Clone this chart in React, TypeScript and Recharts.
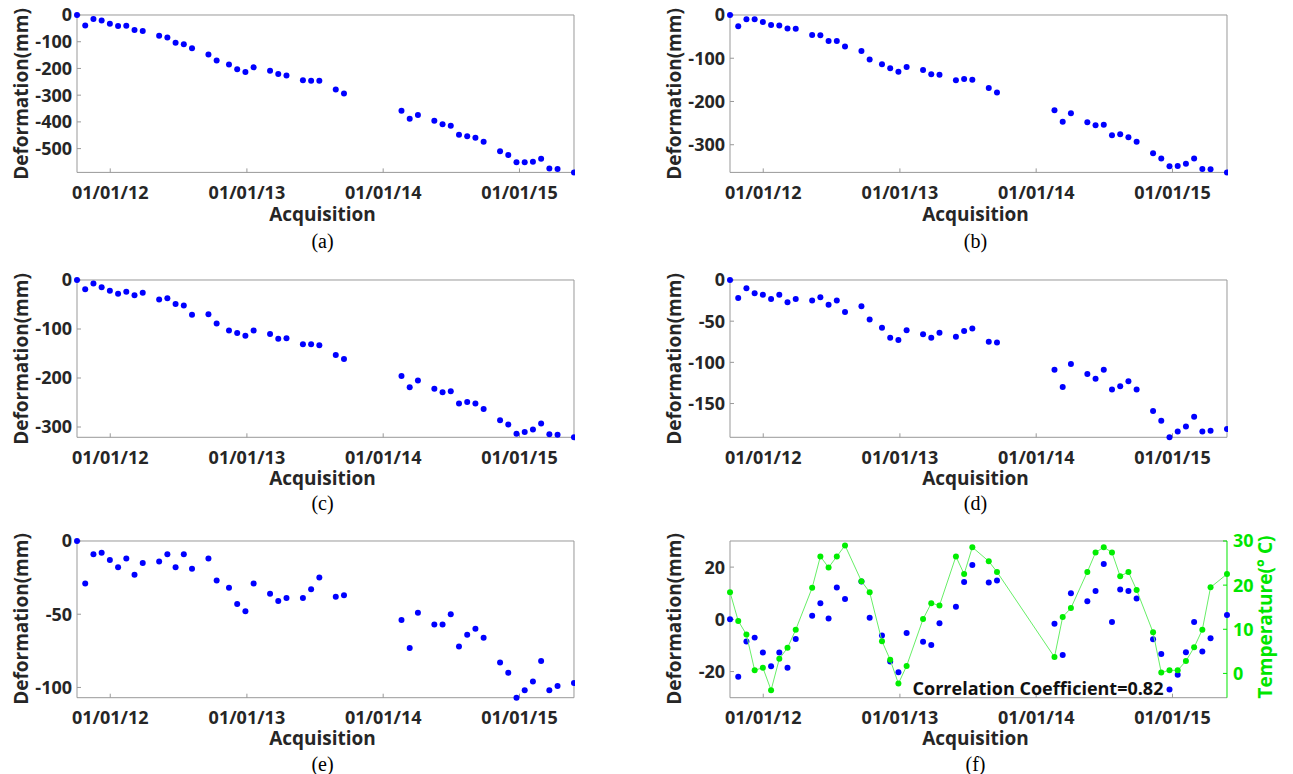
import React from 'react';
import { ScatterChart, Scatter, XAxis, YAxis } from 'recharts';

// acquisition dates (same for every point)
const acquisitionDates = [
  '2011-10-04', '2011-10-26', '2011-11-17', '2011-12-09', '2011-12-31',
  '2012-01-22', '2012-02-13', '2012-03-06', '2012-03-28', '2012-05-11',
  '2012-06-02', '2012-06-24', '2012-07-16', '2012-08-07', '2012-09-20',
  '2012-10-12', '2012-11-14', '2012-12-06', '2012-12-28', '2013-01-19',
  '2013-03-04', '2013-03-26', '2013-04-17', '2013-05-31', '2013-06-22',
  '2013-07-14', '2013-08-27', '2013-09-18', '2014-02-19', '2014-03-13',
  '2014-04-04', '2014-05-18', '2014-06-09', '2014-07-01', '2014-07-23',
  '2014-08-14', '2014-09-05', '2014-09-27', '2014-11-10', '2014-12-02',
  '2014-12-24', '2015-01-15', '2015-02-06', '2015-02-28', '2015-03-22',
  '2015-04-13', '2015-05-27',
];

const deformationA = [
  0, -39, -15, -21, -33, -41, -40, -56, -60, -78, -84, -104, -109, -124, -148, -170,
  -185, -203, -213, -196, -209, -221, -226, -244, -246, -246, -279, -294, -358, -388,
  -374, -396, -409, -414, -448, -454, -459, -474, -510, -524, -551, -551, -549, -538,
  -574, -576, -589,
];
const deformationB = [
  0, -26, -10, -10, -16, -23, -24, -31, -32, -46, -47, -60, -60, -73, -83, -103,
  -114, -123, -131, -120, -127, -137, -138, -151, -148, -150, -169, -179, -220, -247,
  -227, -248, -255, -254, -278, -276, -283, -293, -320, -332, -350, -349, -344, -332,
  -356, -357, -364,
];
const deformationC = [
  0, -19, -7, -15, -22, -28, -24, -31, -26, -40, -37, -49, -52, -71, -70, -89,
  -103, -108, -114, -103, -110, -120, -119, -131, -131, -133, -153, -161, -196, -219,
  -205, -222, -229, -227, -252, -249, -252, -263, -286, -295, -314, -310, -305, -293,
  -315, -316, -321,
];
const deformationD = [
  0, -22, -10, -16, -18, -23, -18, -27, -23, -25, -21, -30, -25, -39, -32, -48,
  -58, -70, -73, -61, -66, -70, -64, -69, -62, -59, -75, -76, -109, -130,
  -102, -114, -120, -109, -133, -129, -123, -133, -159, -171, -191, -184, -178, -166,
  -184, -183, -181,
];
const deformationE = [
  0, -29, -9, -8, -13, -18, -12, -23, -15, -14, -9, -18, -9, -19, -12, -27,
  -32, -43, -48, -29, -36, -41, -39, -39, -33, -25, -38, -37, -54, -73,
  -49, -57, -57, -50, -72, -64, -60, -66, -83, -90, -107, -102, -96, -82,
  -102, -99, -97,
];
const deformationF = [
  0, -22, -8.5, -7, -12.7, -18, -12.7, -18.5, -7.5, 1.4, 6.2, 0.3, 12.2, 7.8, 14.5, 0.6,
  -6.2, -16.1, -20.3, -5.2, -8.6, -9.8, -1.5, 4.8, 14.3, 20.8, 14.1, 14.9, -1.7, -13.7,
  10, 6.9, 10.9, 21.2, -1, 11.4, 10.9, 8, -7.6, -13.3, -26.9, -21.2, -12.6, -1,
  -12.3, -7.2, 1.7,
];
const temperature = [
  18.4, 11.9, 8.8, 0.7, 1.3, -3.8, 3.3, 5.8, 9.9, 19.4, 26.5, 24, 26.5, 29, 20.9, 18.4,
  7.3, 3.1, -2.3, 1.7, 12.3, 15.9, 15.4, 26.5, 22.5, 28.6, 25.4, 23, 3.7, 12.8,
  14.8, 23, 27.4, 28.6, 27.4, 22, 23, 18.9, 9.3, 0.2, 0.7, 0.7, 2.8, 5.9,
  9.9, 19.5, 22.5,
];

const yearTicks = ['2012-01-01', '2013-01-01', '2014-01-01', '2015-01-01'];
const temperatureTicks = [0, 10, 20, 30];

const toTime = (s: string) => Date.parse(s + 'T00:00:00Z');
const times = acquisitionDates.map(toTime);
const xTicks = yearTicks.map(toTime);
const xDomain = [times[0], times[times.length - 1]];

function fmtDate(t: number) {
  const d = new Date(t);
  const mm = String(d.getUTCMonth() + 1).padStart(2, '0');
  const dd = String(d.getUTCDate()).padStart(2, '0');
  const yy = String(d.getUTCFullYear() % 100).padStart(2, '0');
  return `${mm}/${dd}/${yy}`;
}

const AXIS = '#999999';
const INK = '#262626';
const GREEN = '#00e600';
const BLUE = '#0000ff';
const FONT = "'Open Sans', sans-serif";
const tickFont = { fontFamily: FONT, fontWeight: 700, fontSize: 18 };

const dot = (fill: string) => (props: any) =>
  <circle cx={props.cx} cy={props.cy} r={3} fill={fill} />;

interface PanelProps {
  plotLeft: number;
  plotTop: number;
  plotH: number;
  values: number[];
  yDomain: number[];
  yTicks: number[];
  temps?: number[];
}

const PLOT_W = 497;
const LEFT_W = 75;
const TOP_PAD = 20;
const BOTTOM_H = 40;

function Panel({ plotLeft, plotTop, plotH, values, yDomain, yTicks, temps }: PanelProps) {
  const rightW = temps ? 75 : 1;
  const data = times.map((t, i) => ({ t, v: values[i] }));
  const tempData = temps ? times.map((t, i) => ({ t, v: temps[i] })) : [];
  return (
    <div style={{ position: 'absolute', left: plotLeft - LEFT_W, top: plotTop - TOP_PAD }}>
      <ScatterChart
        width={LEFT_W + PLOT_W + rightW}
        height={TOP_PAD + plotH + BOTTOM_H}
        margin={{ top: TOP_PAD - 1, right: 0, bottom: 0, left: 0 }}
      >
        <XAxis
          xAxisId="b"
          dataKey="t"
          type="number"
          domain={xDomain}
          ticks={xTicks}
          interval={0}
          tickFormatter={fmtDate}
          height={BOTTOM_H}
          stroke={AXIS}
          tick={{ ...tickFont, fill: INK }}
          tickSize={-4}
          tickMargin={18}
        />
        <XAxis
          xAxisId="t"
          orientation="top"
          dataKey="t"
          type="number"
          domain={xDomain}
          allowDataOverflow
          ticks={xTicks}
          interval={0}
          tick={false}
          height={1}
          stroke={AXIS}
          tickSize={-4}
        />
        <YAxis
          yAxisId="l"
          dataKey="v"
          type="number"
          domain={yDomain}
          ticks={yTicks}
          interval={0}
          width={LEFT_W}
          stroke={AXIS}
          tick={{ ...tickFont, fill: INK }}
          tickSize={-4}
          tickMargin={9}
        />
        {temps ? (
          <YAxis
            yAxisId="r"
            orientation="right"
            dataKey="v"
            type="number"
            domain={[-5.5, 30]}
            ticks={temperatureTicks}
            interval={0}
            width={rightW}
            stroke={GREEN}
            tick={{ ...tickFont, fill: GREEN }}
            tickSize={-4}
            tickMargin={10}
          />
        ) : (
          <YAxis
            yAxisId="r"
            orientation="right"
            dataKey="v"
            type="number"
            domain={yDomain}
            allowDataOverflow
            ticks={yTicks}
            interval={0}
            width={rightW}
            stroke={AXIS}
            tick={false}
            tickSize={-4}
          />
        )}
        <Scatter
          xAxisId="b"
          yAxisId="l"
          data={data}
          shape={dot(BLUE)}
          isAnimationActive={false}
        />
        {temps && (
          <Scatter
            xAxisId="b"
            yAxisId="r"
            data={tempData}
            line={{ stroke: '#66ee66', strokeWidth: 1 }}
            lineType="joint"
            shape={dot('#00ee00')}
            isAnimationActive={false}
          />
        )}
      </ScatterChart>
    </div>
  );
}

const panels = [
  { key: 'a', plotLeft: 77, plotTop: 15.3, plotH: 157.4, values: deformationA, yDomain: [-589, 0], yTicks: [-500, -400, -300, -200, -100, 0], acqY: 214, capY: 241 },
  { key: 'b', plotLeft: 730, plotTop: 15.3, plotH: 157.4, values: deformationB, yDomain: [-364, 0], yTicks: [-300, -200, -100, 0], acqY: 214, capY: 241 },
  { key: 'c', plotLeft: 77, plotTop: 280, plotH: 157.3, values: deformationC, yDomain: [-321, 0], yTicks: [-300, -200, -100, 0], acqY: 478, capY: 503 },
  { key: 'd', plotLeft: 730, plotTop: 280, plotH: 157.3, values: deformationD, yDomain: [-191, 0], yTicks: [-150, -100, -50, 0], acqY: 478, capY: 503 },
  { key: 'e', plotLeft: 77, plotTop: 541, plotH: 156.7, values: deformationE, yDomain: [-107, 0], yTicks: [-100, -50, 0], acqY: 738, capY: 764 },
  { key: 'f', plotLeft: 730, plotTop: 541, plotH: 156.7, values: deformationF, yDomain: [-30, 30], yTicks: [-20, 0, 20], acqY: 738, capY: 764, temps: temperature },
];

const centered = (x: number, y: number, extra: React.CSSProperties = {}): React.CSSProperties => ({
  position: 'absolute',
  left: x,
  top: y,
  transform: 'translate(-50%, -50%)',
  whiteSpace: 'nowrap',
  lineHeight: 1,
  ...extra,
});

const labelFont: React.CSSProperties = { fontFamily: FONT, fontWeight: 700, fontSize: 19, color: INK };

export default function App() {
  return (
    <div style={{ position: 'absolute', left: 0, top: 0, width: 1293, height: 774, background: '#fff', overflow: 'hidden' }}>
      {panels.map((p) => {
        const cx = p.plotLeft + PLOT_W / 2 - 3;
        return (
          <React.Fragment key={p.key}>
            <Panel
              plotLeft={p.plotLeft}
              plotTop={p.plotTop}
              plotH={p.plotH}
              values={p.values}
              yDomain={p.yDomain}
              yTicks={p.yTicks}
              temps={p.temps}
            />
            <div style={centered(p.plotLeft - 56, p.plotTop + p.plotH / 2, { ...labelFont, transform: 'translate(-50%, -50%) rotate(-90deg)' })}>
              Deformation(mm)
            </div>
            <div style={centered(cx, p.acqY, labelFont)}>Acquisition</div>
            <div style={centered(cx, p.capY, { fontFamily: "'Liberation Serif', serif", fontSize: 20, color: '#000' })}>
              ({p.key})
            </div>
          </React.Fragment>
        );
      })}
      <div style={centered(1265, 617, { ...labelFont, color: GREEN, transform: 'translate(-50%, -50%) rotate(-90deg)' })}>
        Temperature(° C)
      </div>
      <div style={centered(1038, 688, { ...labelFont, fontSize: 18, color: '#111' })}>
        Correlation Coefficient=0.82
      </div>
    </div>
  );
}
